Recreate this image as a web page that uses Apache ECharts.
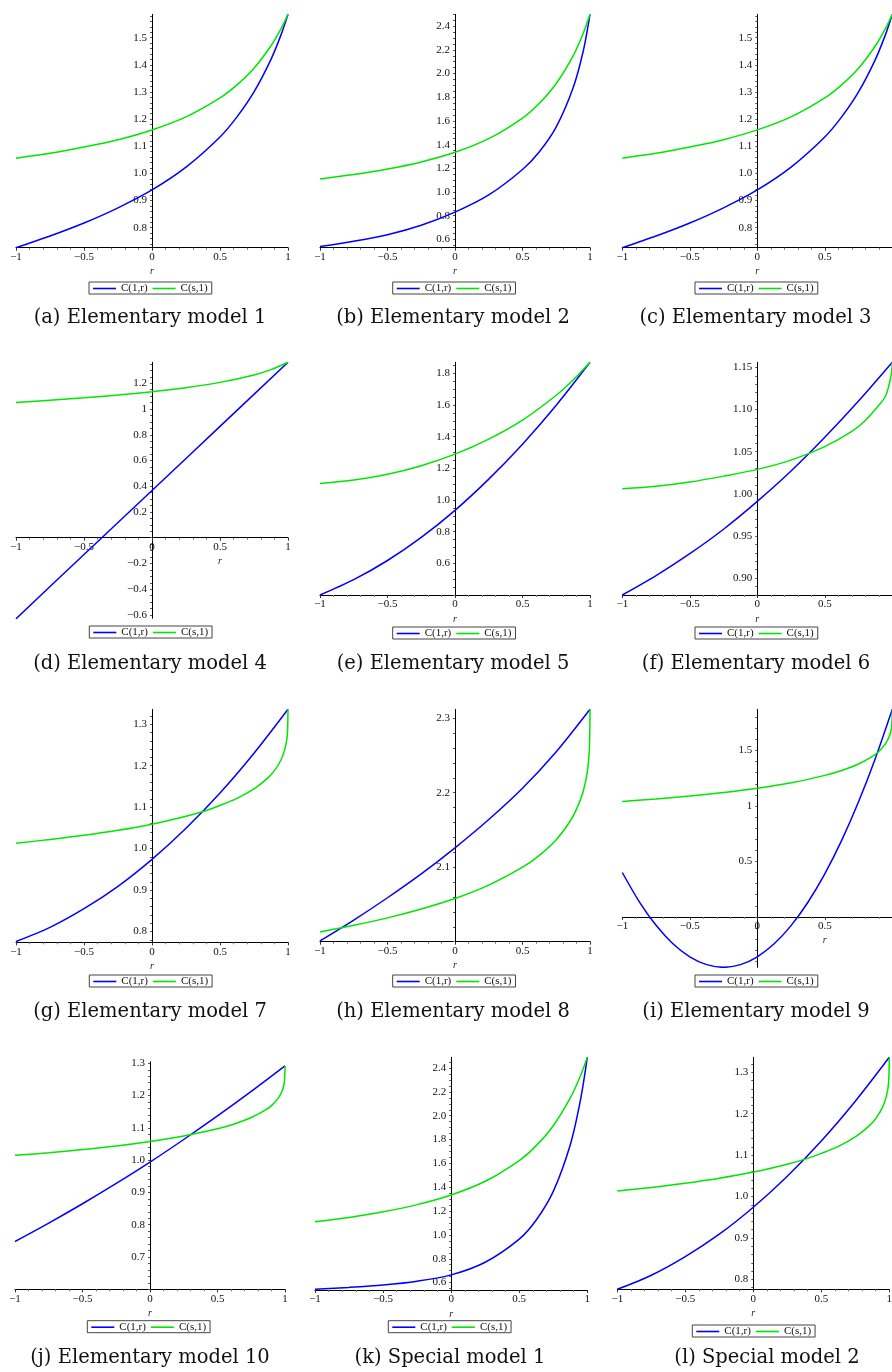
<!DOCTYPE html>
<html><head><meta charset="utf-8">
<script src="https://cdn.jsdelivr.net/npm/echarts@6/dist/echarts.min.js"></script>
<style>html,body{margin:0;padding:0;background:#fff}#c{width:892px;height:1372px}</style>
</head><body><div id="c"></div>
<script>
// ---------- data ----------
const rTicks = [-1, -0.5, 0, 0.5, 1];
const seriesNames = ['C(1,r)', 'C(s,1)'];
const captions = ['(a) Elementary model 1','(b) Elementary model 2','(c) Elementary model 3',
  '(d) Elementary model 4','(e) Elementary model 5','(f) Elementary model 6',
  '(g) Elementary model 7','(h) Elementary model 8','(i) Elementary model 9',
  '(j) Elementary model 10','(k) Special model 1','(l) Special model 2'];

const blueA = [[-1,0.726],[-0.75,0.769],[-0.5,0.817],[-0.25,0.873],[0,0.939],[0.25,1.023],[0.5,1.134],[0.625,1.208],[0.75,1.300],[0.875,1.420],[0.95,1.512],[1,1.586]];
const greenA = [[-1,1.056],[-0.75,1.074],[-0.5,1.097],[-0.25,1.124],[0,1.16],[0.25,1.208],[0.5,1.278],[0.625,1.326],[0.75,1.387],[0.875,1.470],[0.95,1.534],[1,1.586]];
const blueB = [[-1,0.54],[-0.75,0.585],[-0.5,0.64],[-0.25,0.72],[0,0.83],[0.25,0.975],[0.5,1.19],[0.625,1.34],[0.75,1.55],[0.875,1.88],[0.95,2.19],[1,2.5]];
const greenB = [[-1,1.11],[-0.75,1.147],[-0.5,1.194],[-0.25,1.254],[0,1.335],[0.25,1.450],[0.5,1.624],[0.625,1.749],[0.75,1.916],[0.875,2.149],[0.95,2.340],[1,2.5]];
const blueC = [[-1,0.726],[-0.75,0.769],[-0.5,0.817],[-0.25,0.873],[0,0.939],[0.25,1.023],[0.5,1.134],[0.625,1.208],[0.75,1.300],[0.875,1.420],[0.95,1.512],[1,1.586]];
const greenC = [[-1,1.056],[-0.75,1.074],[-0.5,1.097],[-0.25,1.124],[0,1.16],[0.25,1.208],[0.5,1.278],[0.625,1.326],[0.75,1.387],[0.875,1.470],[0.95,1.534],[1,1.586]];
const blueD = [[-1,-0.63],[-0.5,-0.13],[0,0.367],[0.5,0.865],[1,1.363]];
const greenD = [[-1,1.05],[-0.75,1.068],[-0.5,1.087],[-0.25,1.109],[0,1.135],[0.25,1.166],[0.5,1.207],[0.75,1.265],[0.875,1.306],[1,1.363]];
const blueE = [[-1,0.40],[-0.75,0.497],[-0.5,0.618],[-0.25,0.764],[0,0.935],[0.25,1.132],[0.5,1.353],[0.75,1.599],[1,1.87]];
const greenE = [[-1,1.105],[-0.75,1.126],[-0.5,1.163],[-0.25,1.217],[0,1.29],[0.25,1.385],[0.5,1.505],[0.75,1.662],[0.875,1.758],[1,1.87]];
const blueF = [[-1,0.880],[-0.75,0.903],[-0.5,0.929],[-0.25,0.958],[0,0.991],[0.25,1.027],[0.5,1.067],[0.75,1.110],[1,1.156]];
const greenF = [[-1,1.006],[-0.75,1.009],[-0.5,1.014],[-0.25,1.021],[0,1.029],[0.25,1.040],[0.5,1.056],[0.7,1.074],[0.8,1.087],[0.9,1.105],[0.95,1.116],[0.98,1.132],[0.995,1.144],[1,1.156]];
const blueG = [[-1,0.776],[-0.75,0.810],[-0.5,0.855],[-0.25,0.909],[0,0.974],[0.25,1.049],[0.5,1.134],[0.75,1.230],[1,1.336]];
const greenG = [[-1,1.013],[-0.75,1.022],[-0.5,1.032],[-0.25,1.044],[0,1.059],[0.25,1.078],[0.4,1.092],[0.5,1.104],[0.625,1.121],[0.75,1.144],[0.85,1.170],[0.9,1.188],[0.95,1.215],[0.98,1.244],[0.995,1.275],[1,1.336]];
const blueH = [[-1,2.001],[-0.75,2.029],[-0.5,2.059],[-0.25,2.091],[0,2.126],[0.25,2.164],[0.5,2.206],[0.75,2.255],[1,2.312]];
const greenH = [[-1,2.013],[-0.75,2.022],[-0.5,2.032],[-0.25,2.044],[0,2.058],[0.25,2.076],[0.5,2.100],[0.625,2.116],[0.75,2.137],[0.85,2.161],[0.9,2.178],[0.95,2.202],[0.98,2.228],[0.995,2.257],[1,2.312]];
const blueI = [[-1,0.40],[-0.875,0.138],[-0.75,-0.076],[-0.625,-0.242],[-0.5,-0.360],[-0.375,-0.431],[-0.25,-0.455],[-0.125,-0.431],[0,-0.36],[0.125,-0.243],[0.25,-0.079],[0.375,0.132],[0.5,0.388],[0.625,0.690],[0.75,1.038],[0.875,1.431],[1,1.872]];
const greenI = [[-1,1.04],[-0.75,1.063],[-0.5,1.089],[-0.25,1.121],[0,1.16],[0.25,1.209],[0.5,1.276],[0.625,1.320],[0.75,1.379],[0.85,1.445],[0.9,1.492],[0.95,1.562],[0.98,1.635],[0.995,1.715],[1,1.872]];
const blueJ = [[-1,0.748],[-0.75,0.805],[-0.5,0.865],[-0.25,0.928],[0,0.994],[0.25,1.064],[0.5,1.137],[0.75,1.213],[1,1.292]];
const greenJ = [[-1,1.015],[-0.75,1.023],[-0.5,1.033],[-0.25,1.044],[0,1.058],[0.25,1.075],[0.5,1.097],[0.625,1.112],[0.75,1.132],[0.85,1.154],[0.9,1.169],[0.95,1.192],[0.98,1.216],[0.995,1.241],[1,1.292]];
const blueK = [[-1,0.545],[-0.75,0.56],[-0.5,0.58],[-0.25,0.612],[0,0.665],[0.25,0.771],[0.5,0.965],[0.625,1.125],[0.75,1.365],[0.875,1.757],[0.95,2.133],[1,2.49]];
const greenK = [[-1,1.11],[-0.75,1.147],[-0.5,1.194],[-0.25,1.254],[0,1.335],[0.25,1.450],[0.5,1.624],[0.625,1.749],[0.75,1.916],[0.875,2.149],[0.95,2.335],[1,2.49]];
const blueL = [[-1,0.776],[-0.75,0.810],[-0.5,0.855],[-0.25,0.909],[0,0.974],[0.25,1.049],[0.5,1.134],[0.75,1.230],[1,1.336]];
const greenL = [[-1,1.013],[-0.75,1.022],[-0.5,1.032],[-0.25,1.044],[0,1.059],[0.25,1.078],[0.4,1.092],[0.5,1.104],[0.625,1.121],[0.75,1.144],[0.85,1.170],[0.9,1.188],[0.95,1.215],[0.98,1.244],[0.995,1.275],[1,1.336]];

const yRangeA = [0.726, 1.586], yTicksA = [0.8,0.9,1.0,1.1,1.2,1.3,1.4,1.5];
const yRangeB = [0.53, 2.50],   yTicksB = [0.6,0.8,1.0,1.2,1.4,1.6,1.8,2.0,2.2,2.4];
const yRangeC = [0.726, 1.586], yTicksC = [0.8,0.9,1.0,1.1,1.2,1.3,1.4,1.5];
const yRangeD = [-0.626, 1.363], yTicksD = [-0.6,-0.4,-0.2,0.2,0.4,0.6,0.8,1,1.2];
const yRangeE = [0.40, 1.87],   yTicksE = [0.6,0.8,1.0,1.2,1.4,1.6,1.8];
const yRangeF = [0.880, 1.156], yTicksF = [0.90,0.95,1.00,1.05,1.10,1.15];
const yRangeG = [0.774, 1.336], yTicksG = [0.8,0.9,1.0,1.1,1.2,1.3];
const yRangeH = [2.0, 2.312],   yTicksH = [2.1,2.2,2.3];
const yRangeI = [-0.455, 1.872], yTicksI = [0.5,1,1.5];
const yRangeJ = [0.6, 1.305],   yTicksJ = [0.7,0.8,0.9,1.0,1.1,1.2,1.3];
const yRangeK = [0.538, 2.49],  yTicksK = [0.6,0.8,1.0,1.2,1.4,1.6,1.8,2.0,2.2,2.4];
const yRangeL = [0.776, 1.336], yTicksL = [0.8,0.9,1.0,1.1,1.2,1.3];

// ---------- layout ----------
const panels = [
 {blue:blueA, green:greenA, yr:yRangeA, yt:yTicksA, fmt:1, grid:[16,14.3,272,233.4], leg:[89,282], cap:[150,318]},
 {blue:blueB, green:greenB, yr:yRangeB, yt:yTicksB, fmt:1, grid:[320,14.3,270,233.4], leg:[392.7,282], cap:[453,318]},
 {blue:blueC, green:greenC, yr:yRangeC, yt:yTicksC, fmt:1, grid:[622.3,14.3,270,233.4], leg:[695,282], cap:[755.5,318], hideMax:true},
 {blue:blueD, green:greenD, yr:yRangeD, yt:yTicksD, fmt:'t', grid:[16,362.3,272,256], leg:[89.3,626], cap:[150,664], rShift:136},
 {blue:blueE, green:greenE, yr:yRangeE, yt:yTicksE, fmt:1, grid:[320,362.3,270,232.7], leg:[392.7,627], cap:[453,664]},
 {blue:blueF, green:greenF, yr:yRangeF, yt:yTicksF, fmt:2, grid:[622.3,362.3,270,232.7], leg:[695,627], cap:[756,664], hideMax:true},
 {blue:blueG, green:greenG, yr:yRangeG, yt:yTicksG, fmt:1, grid:[16,709.3,272,233], leg:[89.3,975], cap:[150,1011.7]},
 {blue:blueH, green:greenH, yr:yRangeH, yt:yTicksH, fmt:1, grid:[320,709.3,270,232.4], leg:[392.7,975], cap:[453,1011.7]},
 {blue:blueI, green:greenI, yr:yRangeI, yt:yTicksI, fmt:'t', grid:[622.3,709.3,270,258], leg:[695,975], cap:[756,1011.7], hideMax:true, rShift:135},
 {blue:blueJ, green:greenJ, yr:yRangeJ, yt:yTicksJ, fmt:1, grid:[15,1061.7,270,227.6], leg:[87.3,1320.7], cap:[150,1358.3]},
 {blue:blueK, green:greenK, yr:yRangeK, yt:yTicksK, fmt:1, grid:[315,1057.3,272.3,232.7], leg:[388.3,1320.7], cap:[450,1358.3]},
 {blue:blueL, green:greenL, yr:yRangeL, yt:yTicksL, fmt:1, grid:[617.3,1057.3,272,232], leg:[692.3,1325], cap:[767,1358.3]}
];

const BLUE = '#0000ff', GREEN = '#00e600';
const LABEL_FONT = 'Liberation Serif';
const minus = s => String(s).replace('-', '\u2212');
function fmtY(v, f) {
  if (f === 't') return minus(String(+(+v).toFixed(2)));
  return minus((+v).toFixed(f));
}
function tickValues(p) {
  const t = p.yt.slice().sort((a,b)=>a-b);
  let step = Math.abs(t[1]-t[0]);
  if (p.fmt === 't') step = p.yt.length < 5 ? 0.5 : 0.2;
  const div = Math.abs(step-0.2) < 1e-9 ? 4 : 5;
  const minor = step/div, out = [];
  const start = Math.ceil(p.yr[0]/minor - 1e-6);
  for (let k = start; k*minor <= p.yr[1] + 1e-9; k++) out.push(Math.round(k*minor*10000)/10000);
  return out;
}

const grids=[], xAxes=[], yAxes=[], series=[], legends=[], graphics=[];
panels.forEach((p, i) => {
  const [gl, gt, gw, gh] = p.grid;
  const yOff = -(0 - rTicks[0]) / (rTicks[rTicks.length-1] - rTicks[0]) * gw;
  const hasZero = p.yr[0] < 0 && p.yr[1] > 0;
  const xOff = hasZero ? -(0 - p.yr[0]) / (p.yr[1] - p.yr[0]) * gh : 0;
  grids.push({left:gl, top:gt, width:gw, height:gh, containLabel:false, outerBoundsMode:'none'});
  xAxes.push({
    type:'value', gridIndex:i, position:'bottom', offset:xOff,
    min:rTicks[0], max:rTicks[rTicks.length-1], interval:0.5,
    axisLine:{onZero:false, lineStyle:{color:'#000', width:1}},
    axisTick:{show:true, length:3, lineStyle:{color:'#333'}},
    minorTick:{show:true, splitNumber:5, length:2, lineStyle:{color:'#777'}},
    splitLine:{show:false}, minorSplitLine:{show:false},
    axisLabel:{fontFamily:LABEL_FONT, fontSize:11, color:'#111', margin:4, showMaxLabel:!p.hideMax, showMinLabel:true,
      formatter: v => minus(String(+v))},
    name:'r', nameLocation:'middle', nameGap:19,
    nameTextStyle:{fontFamily:LABEL_FONT, fontStyle:'italic', fontSize:10, color:'#222', padding: p.rShift ? [0,0,0,p.rShift] : 0}
  });
  yAxes.push({
    type:'value', gridIndex:i, position:'left', offset:yOff, min:p.yr[0], max:p.yr[1],
    axisLine:{onZero:false, lineStyle:{color:'#000', width:1}},
    axisTick:{show:true, length:2, customValues: tickValues(p), lineStyle:{color:'#555'}},
    splitLine:{show:false},
    axisLabel:{customValues:p.yt, fontFamily:LABEL_FONT, fontSize:11, color:'#111', margin:5,
      formatter: v => fmtY(v, p.fmt)}
  });
  series.push({type:'line', name:seriesNames[0], xAxisIndex:i, yAxisIndex:i, data:p.blue, smooth:0.3,
    symbol:'none', lineStyle:{color:BLUE, width:1.5}, itemStyle:{color:BLUE}, z:3, animation:false});
  series.push({type:'line', name:seriesNames[1], xAxisIndex:i, yAxisIndex:i, data:p.green, smooth:0.3,
    symbol:'none', lineStyle:{color:GREEN, width:1.5}, itemStyle:{color:GREEN}, z:3, animation:false});
  legends.push({left:p.leg[0], top:p.leg[1], orient:'horizontal', data:seriesNames, selectedMode:false,
    icon:'rect', itemWidth:23, itemHeight:1.6, itemGap:5, padding:[1,4,0,4], borderColor:'#444', borderWidth:1, borderRadius:0,
    textStyle:{fontFamily:LABEL_FONT, fontSize:11, color:'#111', lineHeight:11}});
  graphics.push({type:'text', x:p.cap[0], y:p.cap[1],
    style:{text:captions[i], fontFamily:'DejaVu Serif', fontSize:19.5, fill:'#111', align:'center', verticalAlign:'middle',
      textAlign:'center', textVerticalAlign:'middle'}});
});

const chart = echarts.init(document.getElementById('c'), null, {renderer:'canvas'});
chart.setOption({
  backgroundColor:'#fff', animation:false,
  grid:grids, xAxis:xAxes, yAxis:yAxes, series:series, legend:legends, graphic:graphics
});
</script></body></html>
